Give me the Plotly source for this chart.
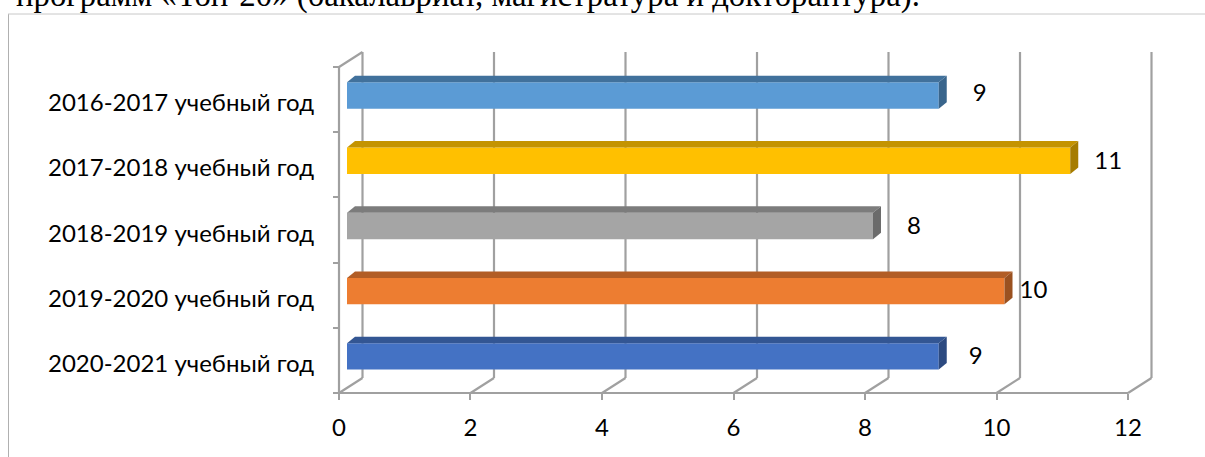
import plotly.graph_objects as go

categories = ["2020-2021 учебный год", "2019-2020 учебный год", "2018-2019 учебный год",
              "2017-2018 учебный год", "2016-2017 учебный год"]
values = [9, 10, 8, 11, 9]
face_colors = ["#4472C4", "#ED7D31", "#A5A5A5", "#FFC000", "#5B9BD5"]
top_colors = ["#335693", "#B25D25", "#7C7C7C", "#C49300", "#41719C"]
side_colors = ["#2C4A80", "#9A5120", "#6B6B6B", "#A67C00", "#39658C"]
x_ticks = [0, 2, 4, 6, 8, 10, 12]
y_bounds = [0, 1, 2, 3, 4, 5]
heading = "программ «Топ-20» (бакалавриат, магистратура и докторантура)."

W, H = 1205, 457
PX_X = 65.75   # pixels per x unit
PX_Y = 65.2    # pixels per category band
X0, Y0 = 339, 393
xr = [-0.1, 12.5]
yr = [-0.1, 5.4]
DX, DY = 23.5 / PX_X, 15 / PX_Y     # wall depth
BAR_DX, BAR_DY = 8 / PX_X, 6.5 / PX_Y  # bar depth
BASE = 8 / PX_X
BAR_H = 0.405
SHIFT = 0.062
LABEL_PAD = [37, 29, 41, 38, 41]   # pixel gap from bar end to value label centre
LABEL_RISE = [-2, -1, -2, -2, 1]   # pixel lift of value label from bar centre
GRID = dict(color="#A0A0A0", width=2.2)
LABEL_FONT = "Lato"

fig = go.Figure()
ys = [i + 0.5 + SHIFT for i in range(len(values))]

fig.add_trace(go.Bar(x=values, y=ys, base=BASE, orientation="h", width=BAR_H,
                     marker=dict(color=face_colors, line=dict(width=0)), hoverinfo="skip"))

for v, y, tc, sc in zip(values, ys, top_colors, side_colors):
    x1 = BASE + v
    t = y + BAR_H / 2
    b = y - BAR_H / 2
    fig.add_trace(go.Scatter(x=[BASE, x1, x1 + BAR_DX, BASE + BAR_DX, BASE], y=[t, t, t + BAR_DY, t + BAR_DY, t],
                             mode="lines", fill="toself", fillcolor=tc, line=dict(width=0), hoverinfo="skip"))
    fig.add_trace(go.Scatter(x=[x1, x1 + BAR_DX, x1 + BAR_DX, x1, x1], y=[t, t + BAR_DY, b + BAR_DY, b, t],
                             mode="lines", fill="toself", fillcolor=sc, line=dict(width=0), hoverinfo="skip"))

fig.add_trace(go.Scatter(x=[BASE + v + p / PX_X for v, p in zip(values, LABEL_PAD)],
                         y=[y + r / PX_Y for y, r in zip(ys, LABEL_RISE)], mode="text",
                         text=[str(v) for v in values],
                         textfont=dict(family=LABEL_FONT, size=24, color="#000000"), hoverinfo="skip"))

shapes = []
def seg(x0, y0, x1, y1):
    shapes.append(dict(type="line", xref="x", yref="y", x0=x0, y0=y0, x1=x1, y1=y1,
                       line=GRID, layer="below"))
top = y_bounds[-1]
for t in x_ticks:
    seg(t, 0, t + DX, DY)
    seg(t + DX, DY, t + DX, top + DY)
seg(0, 0, x_ticks[-1], 0)
seg(0, 0, 0, top)
seg(0, top, DX, top + DY)
shapes.append(dict(type="line", xref="paper", yref="paper", x0=8.5 / W, x1=8.5 / W, y0=0, y1=1 - 14 / H,
                   line=dict(color="#B0B0B0", width=1)))
shapes.append(dict(type="line", xref="paper", yref="paper", x0=8 / W, x1=1, y0=1 - 14 / H, y1=1 - 14 / H,
                   line=dict(color="#C8C8C8", width=1)))

x_dom = [(X0 + xr[0] * PX_X) / W, (X0 + xr[1] * PX_X) / W]
y_dom = [(H - Y0 + yr[0] * PX_Y) / H, (H - Y0 + yr[1] * PX_Y) / H]

fig.update_layout(
    width=W, height=H, margin=dict(l=0, r=0, t=0, b=0), autosize=False,
    paper_bgcolor="white", plot_bgcolor="white", showlegend=False, shapes=shapes,
    font=dict(family=LABEL_FONT, color="#000000"),
    xaxis=dict(domain=x_dom, range=xr, anchor="free", position=(H - Y0) / H, tickmode="array",
               tickvals=x_ticks, ticktext=[str(t) for t in x_ticks], ticks="outside", ticklen=6,
               tickwidth=2.2, tickcolor="#A0A0A0", showgrid=False, zeroline=False, showline=False,
               tickfont=dict(family=LABEL_FONT, size=24), ticklabelstandoff=7),
    yaxis=dict(domain=y_dom, range=yr, anchor="free", position=X0 / W, tickmode="array",
               tickvals=[i + 0.45 for i in range(len(categories))], ticktext=categories, ticks="",
               showgrid=False, zeroline=False, showline=False,
               tickfont=dict(family=LABEL_FONT, size=24), ticklabelstandoff=25,
               minor=dict(tickmode="array", tickvals=y_bounds, ticks="outside", ticklen=6, tickwidth=2.2,
                          tickcolor="#A0A0A0", showgrid=False)),
    annotations=[dict(text=heading, xref="paper", yref="paper", x=14 / W, y=1 - 16 / H, xanchor="left",
                      yanchor="bottom", showarrow=False, align="left",
                      font=dict(family="Liberation Serif", size=32.8, color="#000000"))],
)
fig.write_html("out.html", post_script="document.body.style.margin='0';",
               config={"displayModeBar": False})
